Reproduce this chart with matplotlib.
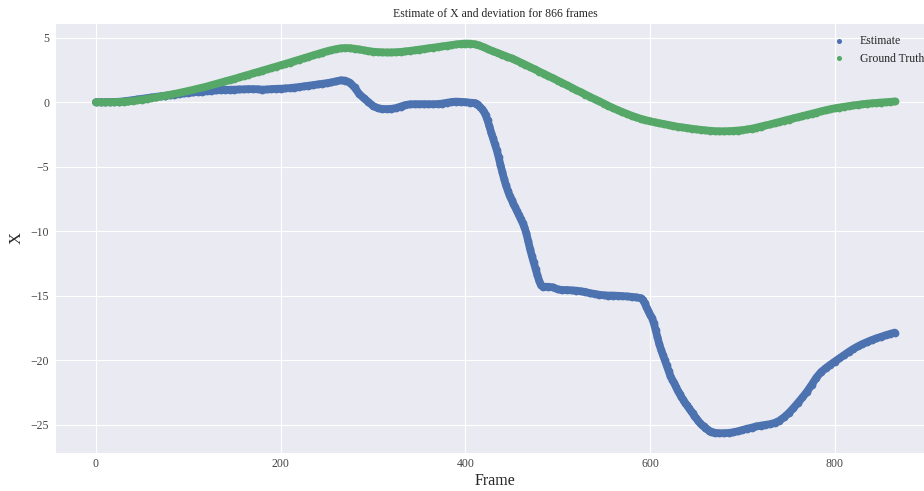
import numpy as np
import matplotlib
matplotlib.use("Agg")
import matplotlib.pyplot as plt

plt.style.use("seaborn-v0_8-darkgrid")
plt.rcParams["font.family"] = ["Liberation Serif", "DejaVu Serif"]

n_frames = 866

# Estimated X per sampled frame
est_frames = (list(range(0, 411, 5)) + list(range(412, 485, 2)) + list(range(490, 591, 5))
              + list(range(592, 669, 2)) + list(range(670, 866, 5)))
est_values = [
    # 0 .. 410 (step 5)
    0.00, 0.00, 0.00, 0.01, 0.02, 0.04, 0.07, 0.12, 0.17, 0.22,
    0.27, 0.32, 0.37, 0.42, 0.46, 0.51, 0.55, 0.60, 0.64, 0.68,
    0.72, 0.76, 0.80, 0.83, 0.86, 0.89, 0.92, 0.94, 0.96, 0.97,
    0.98, 0.99, 1.00, 1.02, 1.02, 1.01, 0.98, 0.99, 1.02, 1.04,
    1.05, 1.07, 1.10, 1.14, 1.18, 1.23, 1.28, 1.33, 1.38, 1.43,
    1.48, 1.54, 1.62, 1.70, 1.68, 1.52, 1.15, 0.65, 0.32, 0.02,
    -0.28, -0.45, -0.52, -0.53, -0.51, -0.45, -0.33, -0.22, -0.16, -0.15,
    -0.15, -0.15, -0.15, -0.15, -0.14, -0.10, -0.04, 0.02, 0.05, 0.03,
    0.01, -0.03, -0.06,
    # 412 .. 484 (step 2)
    -0.10, -0.20, -0.38, -0.52, -0.72, -1.00, -1.40, -1.85, -2.35, -2.80,
    -3.25, -3.70, -4.25, -4.85, -5.40, -5.95, -6.45, -6.85, -7.25, -7.55,
    -7.85, -8.15, -8.45, -8.75, -9.05, -9.35, -9.70, -10.15, -10.75, -11.35,
    -11.90, -12.40, -12.90, -13.40, -13.85, -14.20, -14.30,
    # 490 .. 590 (step 5)
    -14.30, -14.35, -14.50, -14.55, -14.55, -14.58, -14.60, -14.65, -14.70, -14.80,
    -14.85, -14.92, -14.96, -14.98, -14.98, -15.00, -15.02, -15.05, -15.08, -15.12,
    -15.18,
    # 592 .. 668 (step 2)
    -15.30, -15.55, -15.85, -16.15, -16.45, -16.70, -17.10, -17.65, -18.20, -18.75,
    -19.20, -19.60, -20.00, -20.40, -20.80, -21.20, -21.50, -21.75, -22.05, -22.35,
    -22.60, -22.85, -23.05, -23.30, -23.50, -23.70, -23.90, -24.10, -24.30, -24.50,
    -24.68, -24.85, -25.00, -25.12, -25.25, -25.35, -25.45, -25.52, -25.58,
    # 670 .. 865 (step 5)
    -25.62, -25.65, -25.65, -25.63, -25.58, -25.50, -25.40, -25.30, -25.22, -25.12,
    -25.06, -25.00, -24.95, -24.85, -24.68, -24.42, -24.10, -23.72, -23.30, -22.88,
    -22.42, -21.90, -21.35, -20.92, -20.62, -20.35, -20.10, -19.85, -19.60, -19.35,
    -19.12, -18.92, -18.74, -18.58, -18.43, -18.30, -18.18, -18.06, -17.95, -17.85,
]

# Ground-truth X per sampled frame
gt_frames = list(range(0, 866, 5))
gt_values = [
    0.00, 0.00, 0.00, 0.00, 0.01, 0.02, 0.04, 0.07, 0.10, 0.15,
    0.20, 0.26, 0.32, 0.38, 0.45, 0.51, 0.58, 0.65, 0.72, 0.80,
    0.88, 0.96, 1.05, 1.13, 1.22, 1.32, 1.42, 1.52, 1.62, 1.72,
    1.82, 1.92, 2.03, 2.13, 2.24, 2.34, 2.45, 2.55, 2.66, 2.76,
    2.87, 2.97, 3.08, 3.19, 3.30, 3.41, 3.52, 3.63, 3.74, 3.85,
    3.95, 4.04, 4.12, 4.18, 4.20, 4.19, 4.15, 4.09, 4.03, 3.97,
    3.92, 3.89, 3.87, 3.86, 3.86, 3.88, 3.90, 3.94, 3.98, 4.03,
    4.08, 4.13, 4.18, 4.23, 4.28, 4.33, 4.38, 4.43, 4.48, 4.52,
    4.55, 4.54, 4.50, 4.40, 4.26, 4.10, 3.95, 3.82, 3.68, 3.54,
    3.40, 3.24, 3.08, 2.91, 2.73, 2.56, 2.38, 2.21, 2.03, 1.86,
    1.68, 1.50, 1.32, 1.14, 0.95, 0.78, 0.60, 0.42, 0.24, 0.07,
    -0.10, -0.28, -0.45, -0.61, -0.76, -0.90, -1.04, -1.17, -1.28, -1.38,
    -1.47, -1.55, -1.62, -1.69, -1.76, -1.83, -1.90, -1.95, -2.00, -2.05,
    -2.10, -2.14, -2.18, -2.21, -2.24, -2.25, -2.25, -2.24, -2.22, -2.19,
    -2.16, -2.11, -2.05, -1.97, -1.88, -1.80, -1.72, -1.62, -1.53, -1.43,
    -1.34, -1.25, -1.16, -1.07, -0.98, -0.89, -0.80, -0.71, -0.62, -0.54,
    -0.47, -0.41, -0.35, -0.30, -0.25, -0.20, -0.15, -0.11, -0.08, -0.05,
    -0.02, 0.00, 0.03, 0.06,
]

assert len(est_frames) == len(est_values)
assert len(gt_frames) == len(gt_values)

BLUE = "#4C72B0"
GREEN = "#55A868"
TRACK_W = 5.6  # points

fig = plt.figure(figsize=(9.24, 4.91), dpi=100)
ax = fig.add_axes([0.0606, 0.078, 0.951, 0.873])

# each trace: a dense dot track, joined so consecutive dots merge into one band
for frames, values, color, label in (
    (est_frames, est_values, BLUE, "Estimate"),
    (gt_frames, gt_values, GREEN, "Ground Truth"),
):
    ax.plot(frames, values, color=color, lw=TRACK_W, solid_capstyle="round",
            solid_joinstyle="round")
    ax.scatter(frames, values, s=TRACK_W ** 2, color=color, linewidths=0, label=label)

ax.set_title(f"Estimate of X and deviation for {n_frames} frames", fontsize=8.5, pad=5, color="#262626")
ax.set_xlabel("Frame", fontsize=11.5, labelpad=2, color="#262626")
ax.set_ylabel("X", fontsize=12, labelpad=4, color="#262626")
ax.tick_params(axis="both", labelsize=8.5, colors="#444444", length=0)
ax.tick_params(axis="x", pad=4)
ax.tick_params(axis="y", pad=5)
ax.set_xticks([0, 200, 400, 600, 800])
ax.set_yticks([5, 0, -5, -10, -15, -20, -25])

ax.legend(loc="upper right", frameon=False, fontsize=8.5, markerscale=0.65)

fig.savefig("out.png", dpi=100)
